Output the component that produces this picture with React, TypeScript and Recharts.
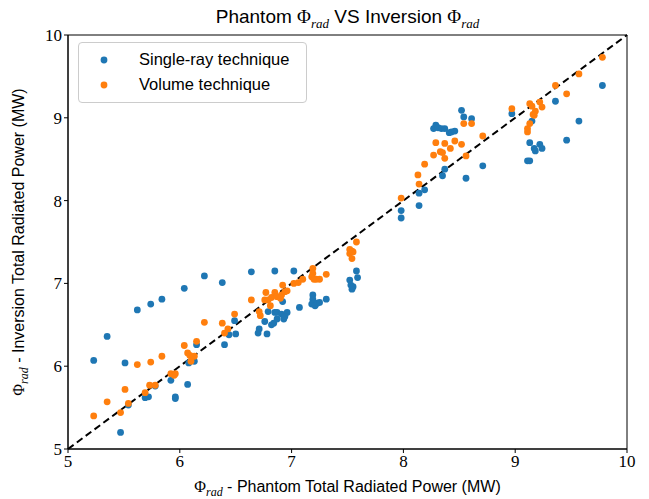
import { ScatterChart, Scatter, XAxis, YAxis, ReferenceLine, ReferenceArea, Legend, Label } from "recharts";

const singleRayX = [
  5.23, 5.35, 5.62, 5.74, 5.84, 6.04, 6.22, 5.51, 5.92, 6.07, 5.96, 5.96, 5.72, 5.69, 5.54, 5.47, 5.78, 6.08, 6.13, 6.15,
  6.38, 6.64, 6.85, 7.02, 6.49, 6.44, 6.5, 6.4, 6.71, 6.7, 6.76, 6.78, 6.82, 6.84, 6.87, 6.85, 6.87, 6.91, 6.96, 6.93,
  6.94, 6.79, 6.92, 7.07, 7.19, 7.19, 7.18, 7.21, 7.23, 7.25, 7.31, 7.52, 7.53, 7.54, 7.55, 7.58, 7.59,
  8.52, 8.54, 8.61, 8.29, 8.27, 8.31, 8.34, 8.37, 8.41, 8.43, 8.46, 8.37, 8.35, 8.56, 8.71, 8.19, 8.14, 8.14, 7.98, 7.98,
  8.97, 9.78, 9.36, 9.15, 9.57, 9.46, 9.13, 9.22, 9.24, 9.17, 9.18, 9.11, 9.13,
];
const singleRayY = [
  6.07, 6.36, 6.68, 6.75, 6.81, 6.94, 7.09, 6.04, 5.83, 5.78, 5.63, 5.61, 5.63, 5.62, 5.53, 5.2, 5.76, 6.04, 6.06, 6.26,
  7.01, 7.14, 7.15, 7.15, 6.55, 6.38, 6.39, 6.26, 6.45, 6.4, 6.54, 6.39, 6.5, 6.52, 6.57, 6.65, 6.65, 6.63, 6.65, 6.57,
  6.6, 6.66, 6.78, 6.71, 6.86, 6.81, 6.75, 6.73, 6.76, 6.77, 6.81, 7.04, 6.98, 6.93, 6.96, 7.15, 7.07,
  9.09, 9.01, 8.99, 8.91, 8.87, 8.88, 8.87, 8.87, 8.82, 8.83, 8.84, 8.38, 8.3, 8.27, 8.42, 8.13, 8.09, 7.94, 7.88, 7.79,
  9.05, 9.39, 9.2, 8.96, 8.96, 8.73, 8.7, 8.68, 8.63, 8.63, 8.6, 8.48, 8.48,
];

const volumeX = [
  5.23, 5.35, 5.47, 5.54, 5.51, 5.69, 5.73, 5.78, 5.62, 5.74, 5.84, 5.92, 5.96, 5.95, 6.04, 6.07, 6.09, 6.1, 6.13, 6.15,
  6.22, 6.38, 6.49, 6.4, 6.43, 6.64, 6.71, 6.72, 6.77, 6.76, 6.79, 6.82, 6.85, 6.87, 6.9, 6.91, 6.81, 6.92, 6.94, 6.96,
  7.02, 7.06, 7.1, 7.19, 7.19, 7.18, 7.2, 7.22, 7.25, 7.31, 7.52, 7.54, 7.55, 7.54, 7.52, 7.58,
  8.97, 8.54, 8.61, 8.29, 8.37, 8.46, 8.52, 8.42, 8.27, 8.33, 8.35, 8.37, 8.56, 8.71, 8.19, 8.13, 8.14, 7.98,
  9.78, 9.57, 9.36, 9.46, 9.13, 9.15, 9.22, 9.24, 9.18, 9.17, 9.16, 9.13, 9.11, 9.11,
];
const volumeY = [
  5.4, 5.57, 5.44, 5.55, 5.72, 5.68, 5.77, 5.77, 6.02, 6.05, 6.12, 5.91, 5.91, 5.89, 6.25, 6.16, 6.13, 6.06, 6.12, 6.3,
  6.53, 6.52, 6.63, 6.4, 6.45, 6.8, 6.66, 6.61, 6.89, 6.8, 6.8, 6.83, 6.89, 6.84, 6.82, 6.86, 6.73, 6.98, 6.9, 6.91,
  7.0, 7.01, 7.05, 7.18, 7.12, 7.08, 7.05, 7.05, 7.05, 7.11, 7.36, 7.39, 7.38, 7.3, 7.41, 7.5,
  9.11, 8.93, 8.93, 8.7, 8.69, 8.72, 8.68, 8.63, 8.55, 8.59, 8.58, 8.51, 8.54, 8.78, 8.44, 8.31, 8.2, 8.03,
  9.73, 9.53, 9.39, 9.29, 9.17, 9.14, 9.19, 9.13, 9.08, 9.03, 9.04, 8.93, 8.87, 8.83,
];

const axisTicks = [5, 6, 7, 8, 9, 10];

const singleRay = singleRayX.map((x, i) => ({ x, y: singleRayY[i] }));
const volume = volumeX.map((x, i) => ({ x, y: volumeY[i] }));

const BLUE = "#1f77b4";
const ORANGE = "#ff7f0e";
const SANS = "'Liberation Sans', Arial, sans-serif";
const SERIF = "'Liberation Serif', 'DejaVu Serif', serif";

const Dot = (props: any) => <circle cx={props.cx} cy={props.cy} r={3.4} fill={props.fill} />;

const Phi = () => (
  <>
    <tspan fontFamily={SERIF}>Φ</tspan>
    <tspan fontFamily={SERIF} fontStyle="italic" fontSize={12} dy={4}>rad</tspan>
  </>
);

const XTitle = (props: any) => {
  const { x, y, width } = props.viewBox;
  return (
    <text x={x + width / 2} y={y + 43} textAnchor="middle" fontFamily={SANS} fontSize={16} fill="#000">
      <Phi />
      <tspan dy={-4}> - Phantom Total Radiated Power (MW)</tspan>
    </text>
  );
};

const YTitle = (props: any) => {
  const { x, y, height } = props.viewBox;
  const cx = x + 16;
  const cy = y + height / 2;
  return (
    <text x={cx} y={cy} transform={`rotate(-90 ${cx} ${cy})`} textAnchor="middle" fontFamily={SANS} fontSize={16} fill="#000">
      <Phi />
      <tspan dy={-4}> - Inversion Total Radiated Power (MW)</tspan>
    </text>
  );
};

const LegendBox = () => (
  <div
    style={{
      border: "1px solid #cccccc",
      borderRadius: 4,
      background: "rgba(255,255,255,0.8)",
      padding: "4px 10px 5px 10px",
      width: 207,
      fontFamily: SANS,
      fontSize: 16.5,
      lineHeight: "25px",
    }}
  >
    {[
      { name: "Single-ray technique", color: BLUE },
      { name: "Volume technique", color: ORANGE },
    ].map((it) => (
      <div key={it.name} style={{ display: "flex", alignItems: "center" }}>
        <svg width={50} height={10} style={{ flexShrink: 0 }}>
          <circle cx={15} cy={5} r={3.4} fill={it.color} />
        </svg>
        <span style={{ whiteSpace: "nowrap" }}>{it.name}</span>
      </div>
    ))}
  </div>
);

export default function App() {
  return (
    <div style={{ position: "relative", width: 641, height: 491 }}>
      <div
        style={{
          position: "absolute",
          top: -2,
          left: 60,
          width: 559,
          textAlign: "center",
          fontFamily: SANS,
          fontSize: 19,
        }}
      >
        Phantom <span style={{ fontFamily: SERIF }}>Φ</span>
        <sub style={{ fontFamily: SERIF, fontStyle: "italic", fontSize: 13 }}>rad</sub> VS Inversion{" "}
        <span style={{ fontFamily: SERIF }}>Φ</span>
        <sub style={{ fontFamily: SERIF, fontStyle: "italic", fontSize: 13 }}>rad</sub>
      </div>
      <ScatterChart width={641} height={491} margin={{ top: 27, right: 22, bottom: 0, left: 0 }}>
        <XAxis
          type="number"
          dataKey="x"
          domain={[5, 10]}
          ticks={axisTicks}
          allowDataOverflow
          height={50}
          tickSize={4}
          tickLine={{ stroke: "#000" }}
          axisLine={{ stroke: "#000" }}
          tick={{ fill: "#000", fontFamily: SERIF, fontSize: 17 }}
        >
          <Label content={XTitle} />
        </XAxis>
        <YAxis
          type="number"
          dataKey="y"
          domain={[5, 10]}
          ticks={axisTicks}
          allowDataOverflow
          width={60}
          tickSize={4}
          tickLine={{ stroke: "#000" }}
          axisLine={{ stroke: "#000" }}
          tick={{ fill: "#000", fontFamily: SERIF, fontSize: 17 }}
        >
          <Label content={YTitle} />
        </YAxis>
        <ReferenceArea x1={5} x2={10} y1={5} y2={10} fill="none" stroke="#000" strokeWidth={1} />
        <Scatter name="Single-ray technique" data={singleRay} fill={BLUE} shape={Dot} isAnimationActive={false} />
        <Scatter name="Volume technique" data={volume} fill={ORANGE} shape={Dot} isAnimationActive={false} />
        <ReferenceLine
          segment={[{ x: 5, y: 5 }, { x: 10, y: 10 }]}
          stroke="#000"
          strokeWidth={2}
          strokeDasharray="7 4"
        />
        <Legend
          layout="vertical"
          align="center"
          verticalAlign="middle"
          content={LegendBox}
          wrapperStyle={{ top: 34, left: 70, width: "auto" }}
        />
      </ScatterChart>
    </div>
  );
}
